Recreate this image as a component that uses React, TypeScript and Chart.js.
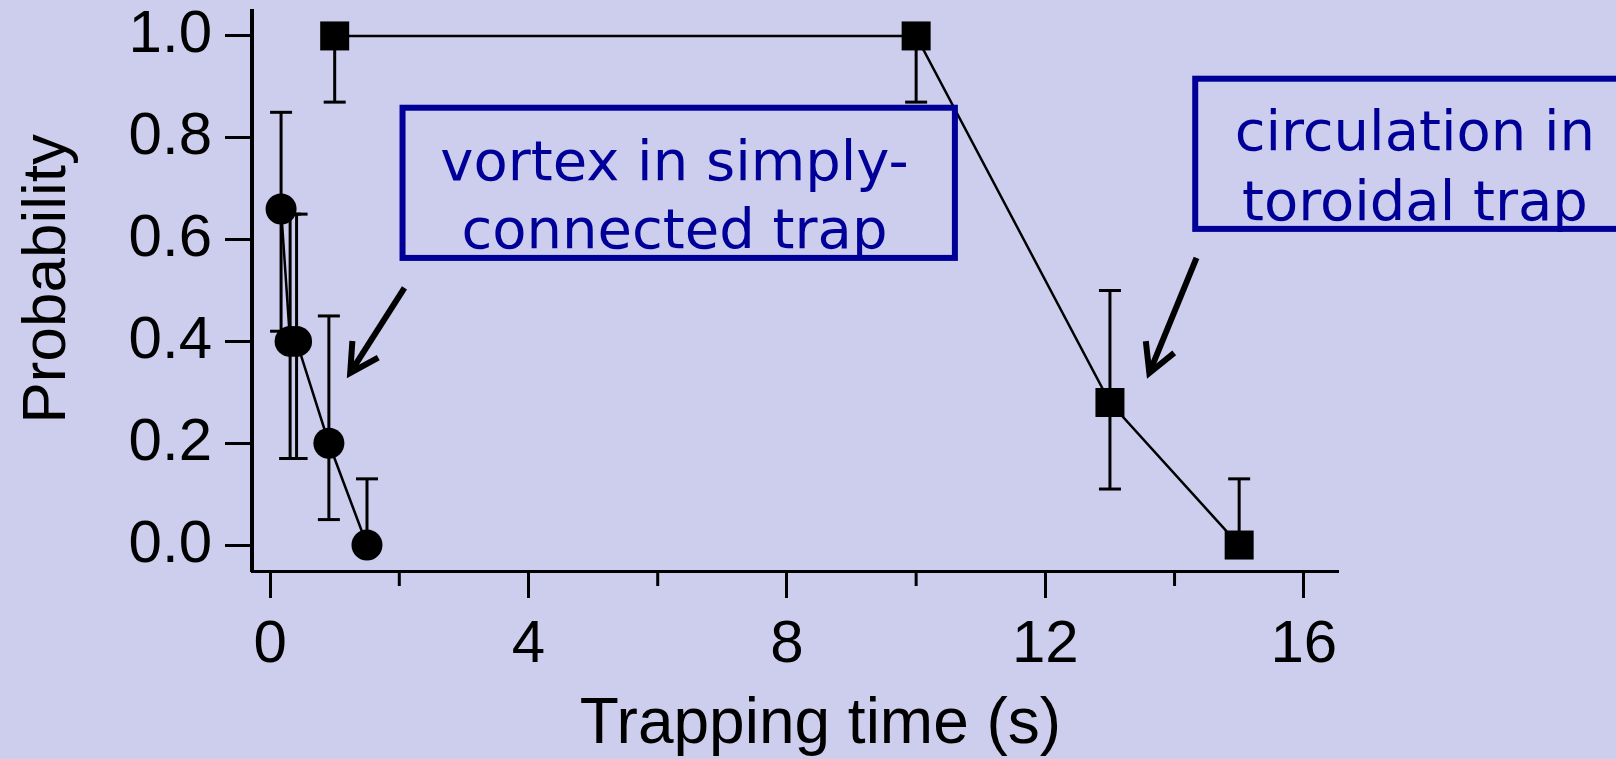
import { useEffect, useRef } from "react";
import { Chart, registerables } from "chart.js";

Chart.register(...registerables);

// Vortex lifetime in the simply-connected trap (circles)
const vortexTimes = [0.17, 0.31, 0.41, 0.91, 1.5];
const vortexProb = [0.66, 0.4, 0.4, 0.2, 0.0];
const vortexErrLow = [0.42, 0.17, 0.17, 0.05, 0.0];
const vortexErrHigh = [0.85, 0.65, 0.65, 0.45, 0.13];

// Persistent circulation in the toroidal trap (squares)
const ringTimes = [1, 10, 13, 15];
const ringProb = [1.0, 1.0, 0.28, 0.0];
const ringErrLow = [0.87, 0.87, 0.11, 0.0];
const ringErrHigh = [1.0, 1.0, 0.5, 0.13];

const xMajorTicks = [0, 4, 8, 12, 16];
const xMinorTicks = [2, 6, 10, 14];
const yTicks = [0, 0.2, 0.4, 0.6, 0.8, 1.0];

const xTitle = "Trapping time (s)";
const yTitle = "Probability";
const noteVortex = ["vortex in simply-", "connected trap"];
const noteRing = ["circulation in", "toroidal trap"];

const BG = "#cdcdee";
const NAVY = "#000099";
const AXIS_FONT = "'Liberation Sans', Arial, sans-serif";
const NOTE_FONT = "'DejaVu Sans', sans-serif";

export default function App() {
  const ref = useRef<HTMLCanvasElement>(null);

  useEffect(() => {
    const canvas = ref.current;
    if (!canvas) return;

    const background = {
      id: "background",
      beforeDraw(chart: any) {
        const { ctx, width, height } = chart;
        ctx.save();
        ctx.fillStyle = BG;
        ctx.fillRect(0, 0, width, height);
        ctx.restore();
      },
    };

    const errorBars = {
      id: "errorBars",
      beforeDatasetsDraw(chart: any) {
        const { ctx } = chart;
        const xs = chart.scales.x;
        const ys = chart.scales.y;
        const cap = 11;
        ctx.save();
        ctx.strokeStyle = "#000";
        ctx.lineWidth = 3;
        const draw = (t: number[], v: number[], lo: number[], hi: number[]) => {
          t.forEach((tv, i) => {
            const px = xs.getPixelForValue(tv);
            const pLo = ys.getPixelForValue(lo[i]);
            const pHi = ys.getPixelForValue(hi[i]);
            ctx.beginPath();
            ctx.moveTo(px, pLo);
            ctx.lineTo(px, pHi);
            ctx.stroke();
            if (hi[i] > v[i]) {
              ctx.beginPath();
              ctx.moveTo(px - cap, pHi);
              ctx.lineTo(px + cap, pHi);
              ctx.stroke();
            }
            if (lo[i] < v[i]) {
              ctx.beginPath();
              ctx.moveTo(px - cap, pLo);
              ctx.lineTo(px + cap, pLo);
              ctx.stroke();
            }
          });
        };
        draw(vortexTimes, vortexProb, vortexErrLow, vortexErrHigh);
        draw(ringTimes, ringProb, ringErrLow, ringErrHigh);
        ctx.restore();
      },
    };

    const decorations = {
      id: "decorations",
      afterDraw(chart: any) {
        const { ctx, chartArea } = chart;
        const xs = chart.scales.x;
        const ys = chart.scales.y;
        const X = (v: number) => xs.getPixelForValue(v);
        const Y = (v: number) => ys.getPixelForValue(v);
        ctx.save();

        // minor x ticks
        ctx.strokeStyle = "#000";
        ctx.lineWidth = 3;
        xMinorTicks.forEach((v) => {
          ctx.beginPath();
          ctx.moveTo(X(v), chartArea.bottom);
          ctx.lineTo(X(v), chartArea.bottom + 15);
          ctx.stroke();
        });

        // axis titles
        ctx.fillStyle = "#000";
        ctx.font = `64px ${AXIS_FONT}`;
        ctx.textAlign = "center";
        ctx.textBaseline = "alphabetic";
        ctx.fillText(xTitle, X(8.52), 743);
        ctx.save();
        ctx.translate(65, Y(0.523));
        ctx.rotate(-Math.PI / 2);
        ctx.font = `62px ${AXIS_FONT}`;
        ctx.fillText(yTitle, 0, 0);
        ctx.restore();

        // annotation boxes
        const box = (x0: number, x1: number, y0: number, y1: number) => {
          ctx.strokeStyle = NAVY;
          ctx.lineWidth = 6;
          ctx.strokeRect(X(x0), Y(y0), X(x1) - X(x0), Y(y1) - Y(y0));
        };
        box(2.05, 10.6, 0.859, 0.564);
        box(14.32, 21.5, 0.916, 0.621);

        ctx.fillStyle = NAVY;
        ctx.font = `56px ${NOTE_FONT}`;
        ctx.textAlign = "center";
        ctx.fillText(noteVortex[0], X(6.26), Y(0.717));
        ctx.fillText(noteVortex[1], X(6.26), Y(0.583));
        ctx.fillText(noteRing[0], X(17.72), Y(0.776));
        ctx.fillText(noteRing[1], X(17.72), Y(0.638));

        // arrows
        const arrow = (fx: number, fy: number, tx: number, ty: number) => {
          const x0 = X(fx), y0 = Y(fy), x1 = X(tx), y1 = Y(ty);
          const ang = Math.atan2(y0 - y1, x0 - x1);
          const len = 32;
          const spread = 0.5;
          ctx.strokeStyle = "#000";
          ctx.lineWidth = 6;
          ctx.lineCap = "butt";
          ctx.lineJoin = "miter";
          ctx.beginPath();
          ctx.moveTo(x0, y0);
          ctx.lineTo(x1, y1);
          ctx.stroke();
          ctx.beginPath();
          ctx.moveTo(x1 + len * Math.cos(ang - spread), y1 + len * Math.sin(ang - spread));
          ctx.lineTo(x1, y1);
          ctx.lineTo(x1 + len * Math.cos(ang + spread), y1 + len * Math.sin(ang + spread));
          ctx.stroke();
        };
        arrow(2.08, 0.505, 1.24, 0.338);
        arrow(14.34, 0.564, 13.61, 0.338);

        ctx.restore();
      },
    };

    const chart = new Chart(canvas, {
      type: "line",
      data: {
        datasets: [
          {
            label: "vortex",
            data: vortexTimes.map((t, i) => ({ x: t, y: vortexProb[i] })),
            borderColor: "#000",
            borderWidth: 2.5,
            pointStyle: "circle",
            pointRadius: 15.5,
            pointBackgroundColor: "#000",
            pointBorderWidth: 0,
            tension: 0,
          },
          {
            label: "circulation",
            data: ringTimes.map((t, i) => ({ x: t, y: ringProb[i] })),
            borderColor: "#000",
            borderWidth: 2.5,
            pointStyle: "rect",
            pointRadius: 20.5,
            pointBackgroundColor: "#000",
            pointBorderWidth: 0,
            tension: 0,
          },
        ],
      },
      options: {
        responsive: false,
        animation: false,
        devicePixelRatio: 1,
        layout: { autoPadding: false, padding: { left: 0, top: 11, right: 278, bottom: 0 } },
        plugins: {
          legend: { display: false },
          tooltip: { enabled: false },
        },
        scales: {
          x: {
            type: "linear",
            min: -0.28,
            max: 16.53,
            afterBuildTicks: (s: any) => {
              s.ticks = xMajorTicks.map((value) => ({ value }));
            },
            afterFit: (s: any) => {
              s.height = 188;
              s.paddingLeft = 0;
              s.paddingRight = 0;
            },
            border: { display: true, color: "#000", width: 3 },
            grid: {
              drawOnChartArea: false,
              drawTicks: true,
              tickLength: 27,
              tickWidth: 3,
              tickColor: "#000",
            },
            ticks: {
              autoSkip: false,
              maxRotation: 0,
              padding: 11,
              color: "#000",
              font: { family: AXIS_FONT, size: 60 },
              callback: (v: any) => String(v),
            },
          },
          y: {
            type: "linear",
            min: -0.051,
            max: 1.049,
            afterBuildTicks: (s: any) => {
              s.ticks = yTicks.map((value) => ({ value }));
            },
            afterFit: (s: any) => {
              s.width = 252;
              s.paddingTop = 0;
              s.paddingBottom = 0;
            },
            border: { display: true, color: "#000", width: 4 },
            grid: {
              drawOnChartArea: false,
              drawTicks: true,
              tickLength: 27,
              tickWidth: 3,
              tickColor: "#000",
            },
            ticks: {
              autoSkip: false,
              padding: 13,
              color: "#000",
              font: { family: AXIS_FONT, size: 60 },
              callback: (v: any) => Number(v).toFixed(1),
            },
          },
        },
      },
      plugins: [background, errorBars, decorations],
    } as any);

    return () => chart.destroy();
  }, []);

  return (
    <div
      style={{
        position: "absolute",
        left: 0,
        top: 0,
        width: 1616,
        height: 759,
        background: BG,
        overflow: "hidden",
      }}
    >
      <canvas ref={ref} width={1616} height={759} style={{ display: "block" }} />
    </div>
  );
}
